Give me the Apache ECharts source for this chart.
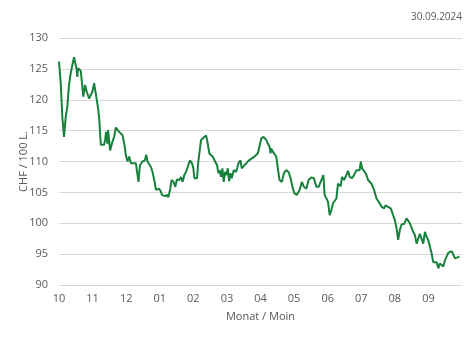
<!DOCTYPE html>
<html>
<head>
<meta charset="utf-8">
<script src="https://cdn.jsdelivr.net/npm/echarts@6/dist/echarts.min.js"></script>
<style>
html,body{margin:0;padding:0;background:#fff;}
#c{width:474px;height:338px;}
</style>
</head>
<body>
<div id="c"></div>
<script>
// Month tick labels (Oct 2023 .. Sep 2024)
const monthLabels = ['10','11','12','01','02','03','04','05','06','07','08','09'];
// Position in months since start of October (0 = 1 Oct)
const xMonths = [
0,0.051,0.099,0.149,0.2,0.248,0.299,0.349,0.397,0.448,0.499,0.528,0.546,0.567,0.648,0.696,0.725,0.776,0.827,0.896,
0.946,0.994,1.045,1.096,1.164,1.194,1.245,1.343,1.373,1.403,1.442,1.463,1.522,1.591,1.642,1.693,1.740,1.791,1.842,1.890,
1.910,1.955,1.991,2.039,2.090,2.140,2.188,2.290,2.337,2.367,2.409,2.487,2.558,2.597,2.636,2.737,2.785,2.836,2.887,2.934,
2.985,3.036,3.066,3.113,3.155,3.215,3.254,3.313,3.352,3.412,3.463,3.513,3.582,3.633,3.681,3.731,3.782,3.830,3.901,3.961,
4.0,4.030,4.110,4.149,4.230,4.278,4.379,4.409,4.478,4.576,4.606,4.648,4.707,4.746,4.785,4.827,4.866,4.904,4.946,4.985,
5.024,5.066,5.104,5.143,5.203,5.275,5.343,5.403,5.442,5.522,5.573,5.642,5.740,5.821,5.919,6.021,6.090,6.170,6.218,6.269,
6.299,6.319,6.367,6.469,6.516,6.567,6.636,6.696,6.767,6.836,6.896,6.964,7.015,7.084,7.164,7.233,7.293,7.364,7.433,7.513,
7.591,7.663,7.731,7.812,7.872,7.910,7.961,8.009,8.060,8.110,8.158,8.209,8.260,8.307,8.388,8.427,8.487,8.558,8.606,8.657,
8.725,8.785,8.857,8.904,8.955,8.985,9.024,9.104,9.155,9.203,9.254,9.304,9.382,9.454,9.501,9.552,9.603,9.651,9.681,9.722,
9.782,9.821,9.881,9.949,10.0,10.051,10.099,10.149,10.2,10.278,10.349,10.397,10.448,10.546,10.597,10.648,10.696,10.746,10.797,10.845,
10.896,10.946,10.994,11.045,11.096,11.143,11.245,11.293,11.343,11.442,11.493,11.591,11.693,11.740,11.791,11.925
];
// CHF per 100 L
const prices = [
126.2,122.7,117.2,114.0,117.2,118.9,122.4,124.3,125.6,126.9,125.6,124.8,123.7,125.1,124.7,124.5,120.5,122.4,121.3,120.2,
120.0,121.3,122.7,121.0,118.6,117.2,112.7,112.7,113.5,114.8,112.9,115.1,111.8,113.2,114.0,115.5,115.4,114.8,115.1,114.3,
114.0,112.5,111.0,110.0,110.8,109.7,110.0,109.7,109.4,106.7,109.4,110.0,110.2,111.1,110.0,109.1,108.3,107.0,105.4,105.4,
105.6,105.1,104.6,104.9,104.4,104.6,104.2,105.6,107.0,106.7,105.9,107.1,107.0,107.5,106.7,107.8,108.3,109.1,110.2,109.7,
108.9,107.3,107.3,110.0,113.5,113.7,114.2,113.5,111.3,110.8,111.1,110.0,109.4,108.1,108.6,107.5,108.9,106.7,108.3,107.8,
108.9,106.8,108.1,107.3,108.6,108.3,109.7,110.2,108.9,109.4,109.1,110.1,110.5,110.8,111.3,113.7,114.0,113.5,112.9,112.4,
111.3,112.1,111.6,110.8,108.9,107.0,106.7,108.1,108.6,108.3,107.3,105.6,104.8,104.6,105.4,106.7,105.9,105.6,107.0,107.4,
107.3,105.9,105.9,107.0,107.8,104.6,104.4,103.5,101.3,102.1,103.2,103.6,104.0,106.4,106.0,107.5,107.0,107.8,108.5,107.5,
107.3,107.8,108.6,108.9,108.6,110.0,108.9,108.3,107.8,107.0,107.3,106.4,105.4,104.0,103.8,103.2,102.7,102.9,102.4,102.9,
102.7,102.9,102.4,101.3,100.5,99.2,97.3,98.9,99.8,99.9,100.8,100.6,100.0,98.6,98.1,96.7,97.5,98.3,98.1,96.7,
98.6,97.8,97.3,97.5,95.1,93.7,93.7,92.7,93.5,93.0,94.0,95.2,95.5,95.6,94.3,94.6
];
const dateText = '30.09.2024';
const yTitle = 'CHF / 100 L.';
const xTitle = 'Monat / Moin';

const seriesData = xMonths.map((m, i) => [m, prices[i]]);
const font = '"Open Sans", "Noto Sans", sans-serif';
const txt = '#595959';

const chart = echarts.init(document.getElementById('c'), null, {renderer: 'canvas'});
chart.setOption({
  animation: false,
  backgroundColor: '#ffffff',
  title: {
    text: dateText,
    right: 12,
    top: 12,
    padding: 0,
    textStyle: {fontFamily: font, fontSize: 10, fontWeight: 'normal', color: txt}
  },
  grid: {left: 59, right: 12, top: 38, bottom: 53, containLabel: false},
  xAxis: {
    type: 'value',
    min: 0, max: 12, interval: 1,
    name: xTitle,
    nameLocation: 'middle',
    nameGap: 26,
    nameMoveOverlap: false,
    nameTextStyle: {fontFamily: font, fontSize: 11, color: txt},
    axisLine: {show: false},
    axisTick: {show: false},
    splitLine: {show: false},
    axisLabel: {
      fontFamily: font, fontSize: 11, color: txt, margin: 8,
      formatter: v => (monthLabels[Math.round(v)] !== undefined ? monthLabels[Math.round(v)] : '')
    }
  },
  yAxis: {
    type: 'value',
    min: 90, max: 130, interval: 5,
    name: yTitle,
    nameLocation: 'middle',
    nameGap: 30,
    nameMoveOverlap: false,
    nameTextStyle: {fontFamily: font, fontSize: 11, color: txt},
    axisLine: {show: false},
    axisTick: {show: false},
    axisLabel: {fontFamily: font, fontSize: 11, color: txt, margin: 11},
    splitLine: {lineStyle: {color: '#d9d9d9', width: 1}}
  },
  series: [{
    type: 'line',
    data: seriesData,
    showSymbol: false,
    symbol: 'none',
    lineStyle: {color: '#17813d', width: 2},
    itemStyle: {color: '#17813d'}
  }]
});
</script>
</body>
</html>
